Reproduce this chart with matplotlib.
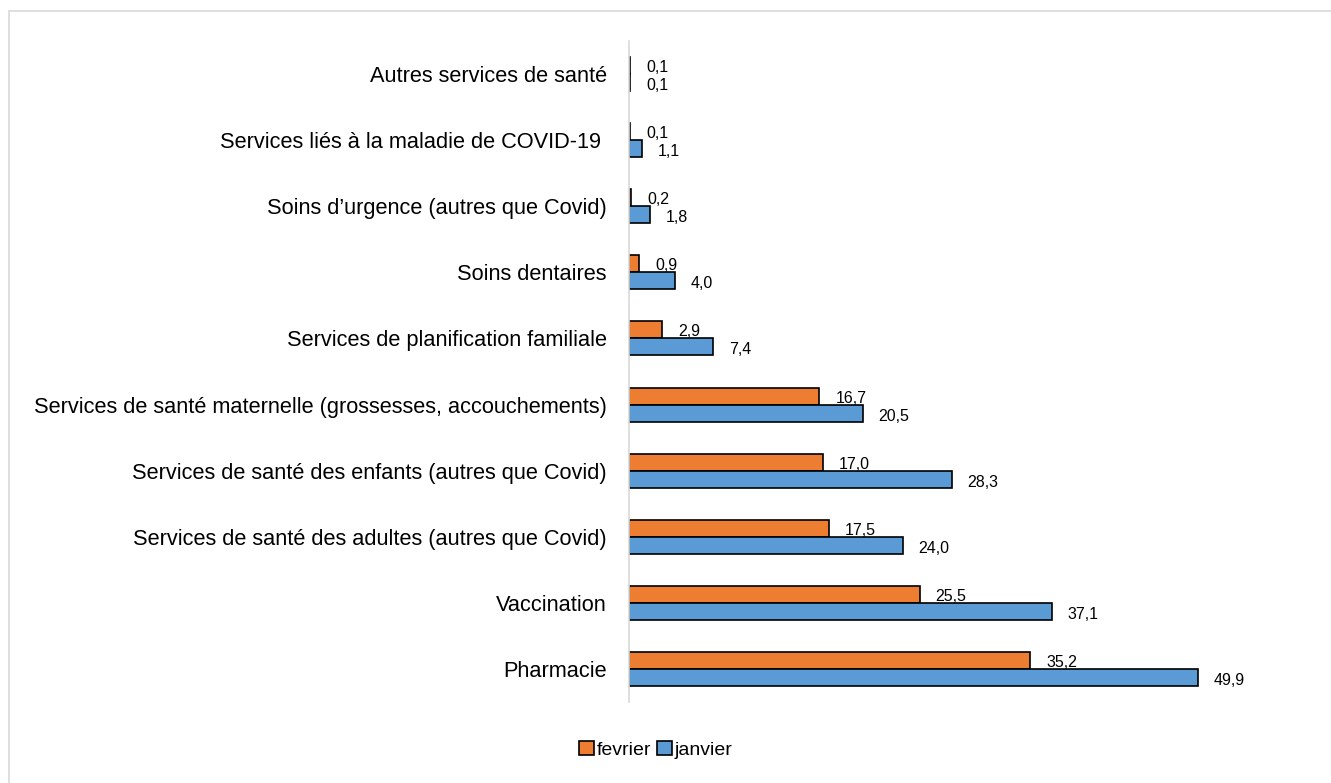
import matplotlib
matplotlib.use('Agg')
import matplotlib.pyplot as plt
from matplotlib.patches import Rectangle

plt.rcParams['font.family'] = ['Liberation Sans', 'DejaVu Sans']

# données (du bas vers le haut)
categories = [
    'Pharmacie',
    'Vaccination',
    'Services de santé des adultes (autres que Covid)',
    'Services de santé des enfants (autres que Covid)',
    'Services de santé maternelle (grossesses, accouchements)',
    'Services de planification familiale',
    'Soins dentaires',
    'Soins d\u2019urgence (autres que Covid)',
    'Services liés à la maladie de COVID-19 ',
    'Autres services de santé',
]
janvier = [49.9, 37.1, 24.0, 28.3, 20.5, 7.4, 4.0, 1.8, 1.1, 0.1]
fevrier = [35.2, 25.5, 17.5, 17.0, 16.7, 2.9, 0.9, 0.2, 0.1, 0.1]

color_fev = '#ED7D31'
color_jan = '#5B9BD5'

fig = plt.figure(figsize=(13.31, 7.83), dpi=100)
ax = fig.add_axes([629 / 1331, 1 - 702 / 783, (1313 - 629) / 1331, (702 - 41) / 783])

# cadre gris clair autour du graphique
fig.patches.append(Rectangle((9 / 1331, -0.1), 1.2, 1 - 11 / 783 + 0.1,
                             transform=fig.transFigure, fill=False,
                             edgecolor='#d9d9d9', linewidth=1.2))

h = 0.257
y = list(range(len(categories)))
b_fev = ax.barh([v + h / 2 for v in y], fevrier, height=h, color=color_fev,
                edgecolor='black', linewidth=1.2, label='fevrier')
b_jan = ax.barh([v - h / 2 for v in y], janvier, height=h, color=color_jan,
                edgecolor='black', linewidth=1.2, label='janvier')

# étiquettes de valeurs
for yi, v in zip(y, fevrier):
    ax.annotate(f'{v:.1f}'.replace('.', ','), (v, yi + h / 2), xytext=(16, -2),
                textcoords='offset pixels', ha='left', va='center', fontsize=11.5)
for yi, v in zip(y, janvier):
    ax.annotate(f'{v:.1f}'.replace('.', ','), (v, yi - h / 2), xytext=(16, -3),
                textcoords='offset pixels', ha='left', va='center', fontsize=11.5)

ax.set_xlim(0, 60)
ax.set_ylim(-0.5, 9.5)
ax.set_yticks(y)
ax.set_yticklabels(categories, fontsize=15.7)
ax.tick_params(axis='y', length=0, pad=16)
ax.set_xticks([])
for s in ['top', 'right', 'bottom']:
    ax.spines[s].set_visible(False)
ax.spines['left'].set_color('#d9d9d9')
ax.spines['left'].set_linewidth(1.2)

fig.legend(handles=[b_fev, b_jan], loc='center', bbox_to_anchor=(656 / 1331, 1 - 750 / 783),
           ncol=2, frameon=False, handlelength=0.75, handleheight=0.75,
           handletextpad=0.15, columnspacing=0.3, prop={'size': 14})

fig.savefig('out.png', dpi=100)
